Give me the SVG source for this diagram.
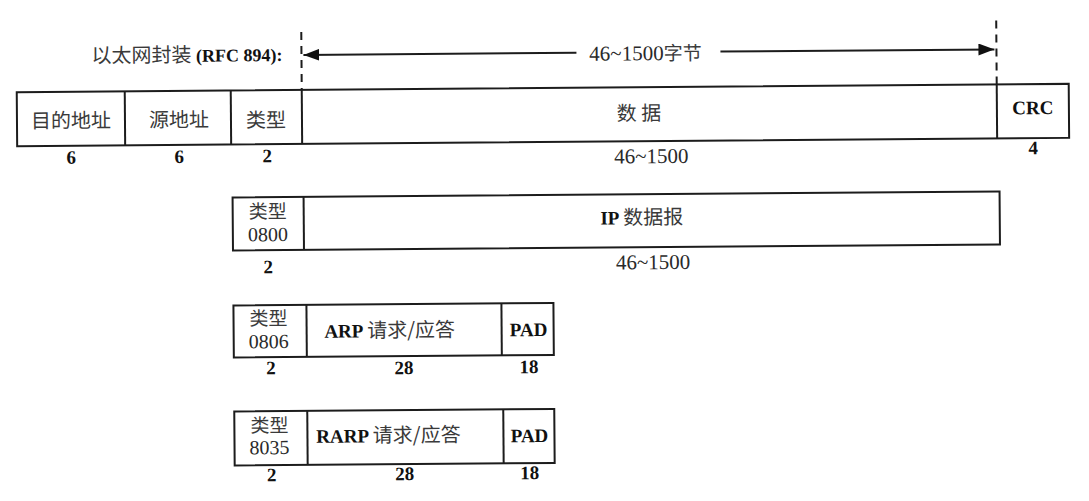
<svg xmlns="http://www.w3.org/2000/svg" width="1089" height="501" viewBox="0 0 1089 501">
<defs>
<style>
.box{fill:#fff;stroke:#1c1c1c;stroke-width:2}
.div{stroke:#1c1c1c;stroke-width:2}
.dash{stroke:#1c1c1c;stroke-width:2;stroke-dasharray:8 6;fill:none}
.ln{stroke:#1c1c1c;stroke-width:2;fill:none}
.cjk{font-family:"Noto Sans CJK SC","Noto Sans",sans-serif;font-size:20px;fill:#3a3a3a;text-anchor:middle}
.sm{font-family:"Noto Sans CJK SC","Noto Sans",sans-serif;font-size:19px;fill:#3a3a3a;text-anchor:middle}
.num{font-family:"Liberation Serif",serif;font-size:19px;font-weight:bold;fill:#111;text-anchor:middle}
.ser{font-family:"Liberation Serif",serif;font-size:21px;fill:#2a2a2a;text-anchor:middle}
.hex{font-family:"Liberation Serif",serif;font-size:20px;fill:#2a2a2a;text-anchor:middle}
.bd{font-family:"Liberation Serif",serif;font-size:19px;font-weight:bold;fill:#111;text-anchor:middle}
</style>
<marker id="ah" viewBox="0 0 16 12" refX="16" refY="6" markerWidth="16" markerHeight="12" markerUnits="userSpaceOnUse" orient="auto-start-reverse">
<path d="M0,0 L16,6 L0,12 Z" fill="#111"/>
</marker>
</defs>
<rect width="1089" height="501" fill="#fff"/>
<g transform="rotate(-0.45 544 250)">
<g id="title">
<text x="93" y="59" font-family="Noto Sans CJK SC, sans-serif" font-size="20" fill="#3a3a3a">以太网封装<tspan font-family="Liberation Serif, serif" font-weight="bold" font-size="18" fill="#111"> (RFC 894):</tspan></text>
</g>
<g id="connectors">
<line class="dash" x1="303" y1="30" x2="303" y2="88"/>
<line class="dash" x1="998" y1="24" x2="998" y2="88"/>
<line class="ln" x1="578" y1="53" x2="305" y2="53" marker-end="url(#ah)"/>
<line class="ln" x1="722" y1="53" x2="996" y2="53" marker-end="url(#ah)"/>
<text class="ser" x="647" y="61">46~1500<tspan font-family="Noto Sans CJK SC, sans-serif" font-size="19" fill="#3a3a3a">字节</tspan></text>
</g>
<g id="ethernet-frame">
<rect class="box" x="18" y="88" width="1052" height="54"/>
<line class="div" x1="126" y1="88" x2="126" y2="142"/>
<line class="div" x1="232" y1="88" x2="232" y2="142"/>
<line class="div" x1="303" y1="88" x2="303" y2="142"/>
<line class="div" x1="998" y1="88" x2="998" y2="142"/>
<text class="cjk" x="72" y="124">目的地址</text>
<text class="cjk" x="180" y="124">源地址</text>
<text class="cjk" x="267" y="125">类型</text>
<text class="cjk" x="640" y="121">数 据</text>
<text class="bd" x="1034" y="118">CRC</text>
<text class="num" x="72" y="160">6</text>
<text class="num" x="180" y="160">6</text>
<text class="num" x="268" y="160">2</text>
<text class="ser" x="652" y="164">46~1500</text>
<text class="num" x="1034" y="158">4</text>
</g>
<g id="ip-frame">
<rect class="box" x="233" y="195" width="767" height="53"/>
<line class="div" x1="304" y1="195" x2="304" y2="248"/>
<text class="sm" x="268" y="216">类型</text>
<text class="hex" x="268" y="239">0800</text>
<text class="cjk" x="642" y="225"><tspan font-family="Liberation Serif, serif" font-weight="bold" font-size="19" fill="#111">IP </tspan>数据报</text>
<text class="num" x="268" y="271">2</text>
<text class="ser" x="653" y="270">46~1500</text>
</g>
<g id="arp-frame">
<rect class="box" x="233" y="303" width="320" height="52"/>
<line class="div" x1="306" y1="303" x2="306" y2="355"/>
<line class="div" x1="501" y1="303" x2="501" y2="355"/>
<text class="sm" x="268" y="323">类型</text>
<text class="hex" x="268" y="346">0806</text>
<text class="cjk" x="389" y="336"><tspan font-family="Liberation Serif, serif" font-weight="bold" font-size="19" fill="#111">ARP </tspan>请求/应答</text>
<text class="bd" x="528" y="336">PAD</text>
<text class="num" x="270" y="372">2</text>
<text class="num" x="403" y="373">28</text>
<text class="num" x="528" y="373">18</text>
</g>
<g id="rarp-frame">
<rect class="box" x="233" y="409" width="320" height="54"/>
<line class="div" x1="306" y1="409" x2="306" y2="463"/>
<line class="div" x1="502" y1="409" x2="502" y2="463"/>
<text class="sm" x="268" y="430">类型</text>
<text class="hex" x="268" y="452">8035</text>
<text class="cjk" x="387" y="441"><tspan font-family="Liberation Serif, serif" font-weight="bold" font-size="19" fill="#111">RARP </tspan>请求/应答</text>
<text class="bd" x="528" y="442">PAD</text>
<text class="num" x="270" y="479">2</text>
<text class="num" x="403" y="479">28</text>
<text class="num" x="528" y="479">18</text>
</g>
</g>
</svg>
